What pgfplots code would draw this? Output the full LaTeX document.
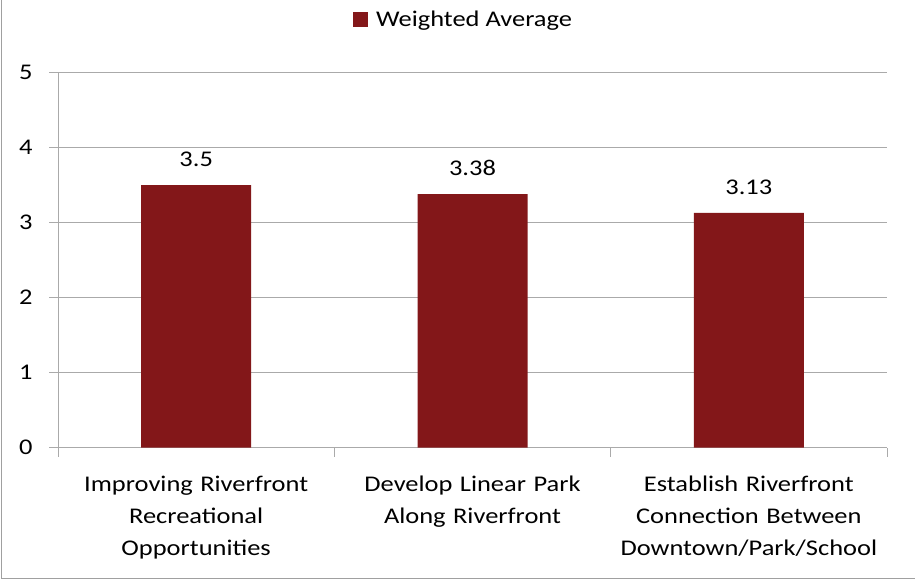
\documentclass[border=0pt]{standalone}
\usepackage{fontspec}
\setmainfont{Carlito}[FakeStretch=1.18]
\usepackage{pgfplots}
\pgfplotsset{compat=1.18}
\definecolor{barred}{RGB}{131,23,25}
\definecolor{gridgray}{RGB}{170,170,170}
\definecolor{framegray}{RGB}{160,160,160}
\begin{document}
\begin{tikzpicture}[x=1bp,y=1bp]
\useasboundingbox (0,0) rectangle (915,580);
\draw[framegray, line width=1.5bp] (1.5,580) -- (1.5,1.5) -- (915,1.5);
\begin{axis}[
  at={(58bp,132.3bp)}, anchor=south west,
  scale only axis,
  width=829bp, height=375bp,
  xmin=-0.5, xmax=2.5, ymin=0, ymax=5,
  ytick={0,1,2,3,4,5},
  xtick={0,1,2},
  xticklabels={Improving Riverfront\\Recreational\\Opportunities,
               Develop Linear Park\\Along Riverfront,
               Establish Riverfront\\Connection Between\\Downtown/Park/School},
  minor xtick={-0.5,0.5,1.5,2.5},
  x tick style={draw=none},
  minor x tick style={draw=gridgray, line width=1bp},
  minor tick length=9bp,
  major tick length=9bp,
  y tick style={draw=gridgray, line width=1bp},
  tick align=outside,
  axis x line*=bottom, axis y line*=left,
  axis line style={-, draw=gridgray, line width=1bp},
  ymajorgrids, grid style={draw=gridgray, line width=1bp},
  /pgf/number format/assume math mode=true,
  every tick label/.append style={font=\fontsize{22.5}{32}\selectfont, text=black},
  xticklabel style={align=center, text width=285bp, yshift=-16bp},
  yticklabel style={xshift=-13bp},
  ybar, bar width=110bp,
  nodes near coords,
  nodes near coords style={font=\fontsize{22.5}{26}\selectfont, text=black, yshift=15bp},
  point meta=explicit symbolic,
  legend style={at={(rel axis cs:0.5,1)}, anchor=center, xshift=-9bp, yshift=53bp,
    draw=none, fill=none, font=\fontsize{22.5}{26}\selectfont,
    legend cell align=left},
  legend image code/.code={\fill[barred] (0bp,-7.5bp) rectangle (15bp,7.5bp); \path (21bp,0bp);},
]
\addplot[fill=barred, draw=none] coordinates {(0,3.5)[3.5] (1,3.38)[3.38] (2,3.13)[3.13]};
\addlegendentry{Weighted Average}
\end{axis}
\end{tikzpicture}
\end{document}
